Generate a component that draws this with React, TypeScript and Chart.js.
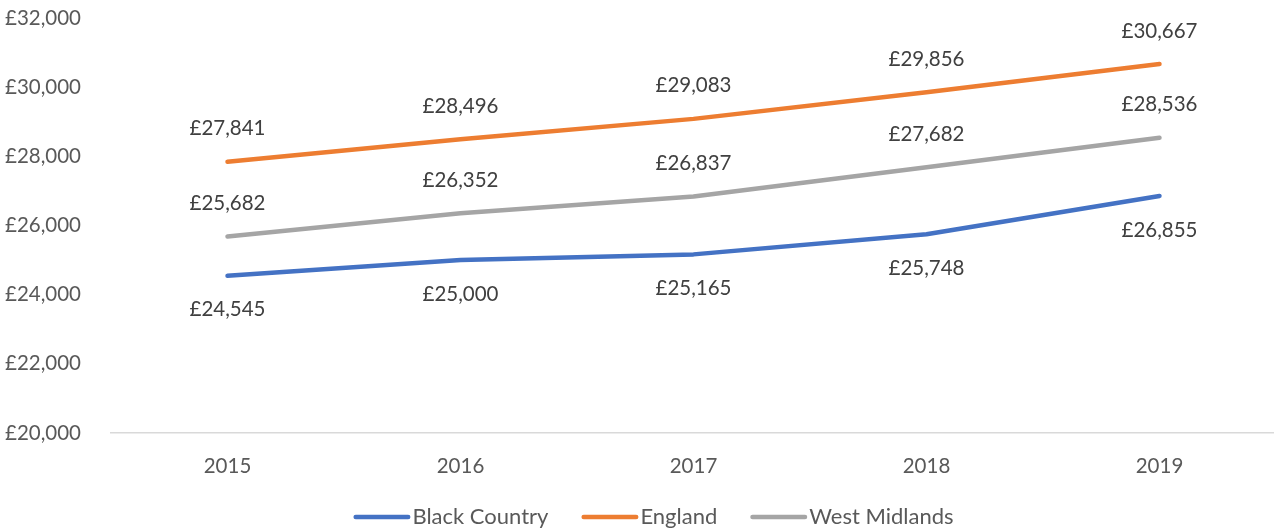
import React, { useEffect, useRef } from "react";
import { Chart, registerables } from "chart.js";

Chart.register(...registerables);

const categories = ["2015", "2016", "2017", "2018", "2019"];
const seriesNames = ["Black Country", "England", "West Midlands"];
const blackCountry = [24545, 25000, 25165, 25748, 26855];
const england = [27841, 28496, 29083, 29856, 30667];
const westMidlands = [25682, 26352, 26837, 27682, 28536];
const seriesColors = ["#4472C4", "#ED7D31", "#A5A5A5"];
const labelSides = ["below", "above", "above"];
const yMin = 20000;
const yMax = 32000;
const yStep = 2000;

const FONT = "Lato, 'Open Sans', sans-serif";
const FS = 20.5;
const LEGEND_FS = 22;
const fmt = (v: number) => "£" + Math.round(v).toLocaleString("en-GB");

const dataLabelPlugin = {
  id: "dataLabels",
  afterDatasetsDraw(chart: any) {
    const ctx = chart.ctx;
    ctx.save();
    ctx.font = `${FS}px ${FONT}`;
    ctx.fillStyle = "#404040";
    ctx.textAlign = "center";
    ctx.textBaseline = "middle";
    chart.data.datasets.forEach((ds: any, di: number) => {
      const meta = chart.getDatasetMeta(di);
      meta.data.forEach((pt: any, i: number) => {
        const off = labelSides[di] === "above" ? -33 : 34;
        ctx.fillText(fmt(ds.data[i]), pt.x, pt.y + off);
      });
    });
    ctx.restore();
  },
};

const legendPlugin = {
  id: "customLegend",
  afterDraw(chart: any) {
    const ctx = chart.ctx;
    ctx.save();
    ctx.font = `${LEGEND_FS}px ${FONT}`;
    ctx.textBaseline = "middle";
    ctx.textAlign = "left";
    const lw = 4.5;
    const lineVis = 57;
    const gap = 2;
    const spacing = 33;
    const items = chart.data.datasets.map((ds: any) => ({
      text: ds.label,
      color: ds.borderColor,
      w: ctx.measureText(ds.label).width,
    }));
    const total =
      items.reduce((s: number, it: any) => s + lineVis + gap + it.w, 0) +
      spacing * (items.length - 1);
    let x = 653.5 - total / 2;
    const y = 517;
    items.forEach((it: any) => {
      ctx.strokeStyle = it.color;
      ctx.lineWidth = lw;
      ctx.lineCap = "round";
      ctx.beginPath();
      ctx.moveTo(x + lw / 2, y);
      ctx.lineTo(x + lineVis - lw / 2, y);
      ctx.stroke();
      ctx.fillStyle = "#595959";
      ctx.fillText(it.text, x + lineVis + gap, y);
      x += lineVis + gap + it.w + spacing;
    });
    ctx.restore();
  },
};

export default function App() {
  const ref = useRef<HTMLCanvasElement | null>(null);
  useEffect(() => {
    if (!ref.current) return;
    const chart = new Chart(ref.current, {
      type: "line",
      data: {
        labels: categories,
        datasets: [blackCountry, england, westMidlands].map((d, i) => ({
          label: seriesNames[i],
          data: d,
          borderColor: seriesColors[i],
          backgroundColor: seriesColors[i],
          borderWidth: 4.5,
          borderCapStyle: "round" as const,
          borderJoinStyle: "round" as const,
          pointRadius: 0,
          tension: 0,
          fill: false,
        })),
      },
      options: {
        responsive: false,
        animation: false,
        layout: { padding: { top: 18, right: 4, bottom: 0, left: 0 } },
        plugins: {
          legend: { display: false },
          tooltip: { enabled: false },
        },
        scales: {
          x: {
            offset: true,
            grid: { display: false },
            border: { display: true, color: "#D9D9D9", width: 1.5 },
            ticks: {
              color: "#595959",
              font: { family: FONT, size: FS },
              padding: 13,
            },
            afterFit(scale: any) {
              scale.height = 95;
              scale.paddingLeft = 0;
              scale.paddingRight = 0;
            },
          },
          y: {
            min: yMin,
            max: yMax,
            grid: { display: false },
            border: { display: false },
            ticks: {
              stepSize: yStep,
              color: "#595959",
              font: { family: FONT, size: FS },
              padding: 22,
              callback: (v: any) => fmt(Number(v)),
            },
            afterFit(scale: any) {
              scale.width = 111;
              scale.paddingTop = 0;
              scale.paddingBottom = 0;
            },
          },
        },
      },
      plugins: [dataLabelPlugin, legendPlugin],
    });
    return () => chart.destroy();
  }, []);
  return (
    <div
      style={{
        position: "absolute",
        left: 0,
        top: 0,
        width: 1274,
        height: 528,
        overflow: "hidden",
        background: "#fff",
      }}
    >
      <canvas
        ref={ref}
        width={1280}
        height={528}
        style={{ width: 1280, height: 528, display: "block" }}
      />
    </div>
  );
}
